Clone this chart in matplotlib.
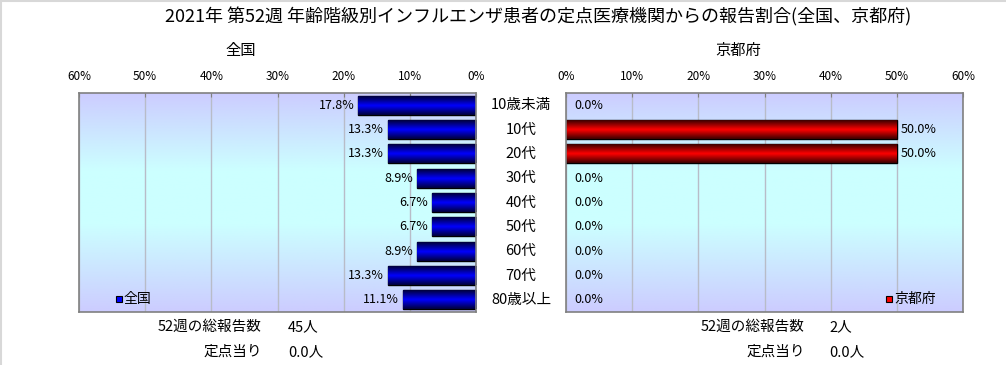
import numpy as np
import matplotlib
matplotlib.use('Agg')
from matplotlib import pyplot as plt
from matplotlib.colors import LinearSegmentedColormap

plt.rcParams['font.family'] = ['Noto Sans CJK JP', 'DejaVu Sans']

title = '2021年 第52週 年齢階級別インフルエンザ患者の定点医療機関からの報告割合(全国、京都府)'
categories = ['10歳未満', '10代', '20代', '30代', '40代', '50代', '60代', '70代', '80歳以上']
zenkoku = [17.8, 13.3, 13.3, 8.9, 6.7, 6.7, 8.9, 13.3, 11.1]
kyoto = [0.0, 50.0, 50.0, 0.0, 0.0, 0.0, 0.0, 0.0, 0.0]
ticks = [0, 10, 20, 30, 40, 50, 60]
total_zenkoku = '45人'
total_kyoto = '2人'
teiten_zenkoku = '0.0人'
teiten_kyoto = '0.0人'

fig = plt.figure(figsize=(10.06, 3.65), dpi=100)

# 背景のグラデーション (上下がラベンダー、中央が水色)
bg = LinearSegmentedColormap.from_list('bg', [(0, '#ccccff'), (0.35, '#ccffff'), (0.6, '#ccffff'), (1, '#ccccff')])
grad = np.linspace(0, 1, 256).reshape(-1, 1)


def bar_gradient(ax, bars, color):
    cm = LinearSegmentedColormap.from_list('b', [(0, '#000000'), (0.5, color), (1, '#000000')])
    g = np.linspace(0, 1, 64).reshape(-1, 1)
    for b in bars:
        if b.get_width() == 0:
            b.set_visible(False)
            continue
        x0, y0 = b.get_x(), b.get_y()
        w, h = b.get_width(), b.get_height()
        im = ax.imshow(g, cmap=cm, aspect='auto', extent=(x0, x0 + w, y0 + h, y0),
                       zorder=2.5, interpolation='bicubic', vmin=-0.15, vmax=1.15)
        im.set_clip_path(b)


def make_axes(rect, values, color, invert):
    ax = fig.add_axes(rect)
    y = np.arange(len(categories))
    ax.imshow(grad, cmap=bg, aspect='auto', extent=(0, 1, 0, 1), transform=ax.transAxes, zorder=0)
    bars = ax.barh(y, values, height=0.78, color=color, edgecolor='black', linewidth=1, zorder=2)
    bar_gradient(ax, bars, color)
    ax.set_xlim(0, 60)
    ax.set_ylim(len(categories) - 0.5, -0.5)
    if invert:
        ax.invert_xaxis()
    ax.set_xticks(ticks)
    ax.set_xticklabels([f'{t}%' for t in ticks], fontsize=8.5)
    ax.xaxis.tick_top()
    ax.tick_params(axis='x', direction='in', length=3, color='#808080', pad=7)
    ax.set_yticks([])
    ax.grid(axis='x', color='#b8bcc8', linewidth=1, zorder=1)
    ax.set_axisbelow(True)
    for s in ax.spines.values():
        s.set_color('#808080')
        s.set_linewidth(1.2)
    for yi, v in zip(y, values):
        if v == 0:
            ax.text(1.2, yi, f'{v:.1f}%', ha='left', va='center', fontsize=9, zorder=3)
        elif invert:
            ax.text(v + 0.6, yi, f'{v:.1f}%', ha='right', va='center', fontsize=9, zorder=3)
        else:
            ax.text(v + 0.6, yi, f'{v:.1f}%', ha='left', va='center', fontsize=9, zorder=3)
    return ax


ax_l = make_axes([79 / 1006, 53 / 365, 397 / 1006, 219 / 365], zenkoku, '#0000ff', True)
ax_r = make_axes([566 / 1006, 53 / 365, 397 / 1006, 219 / 365], kyoto, '#ff0000', False)

# 凡例
ax_l.plot([0.1], [0.06], marker='s', markersize=5, color='#0000ff', mec='black', mew=0.8,
          transform=ax_l.transAxes, clip_on=False)
ax_l.text(0.113, 0.06, '全国', transform=ax_l.transAxes, fontsize=10, va='center', ha='left')
ax_r.plot([0.813], [0.06], marker='s', markersize=5, color='#ff0000', mec='black', mew=0.8,
          transform=ax_r.transAxes, clip_on=False)
ax_r.text(0.826, 0.06, '京都府', transform=ax_r.transAxes, fontsize=10, va='center', ha='left')

# 年齢区分ラベル
for i, c in enumerate(categories):
    yy = 1 - (93 + (i + 0.5) * 219 / 9) / 365
    fig.text(521 / 1006, yy, c, ha='center', va='center', fontsize=10.5)

fig.text(538 / 1006, 1 - 17 / 365, title, ha='center', va='center', fontsize=13)
fig.text(241 / 1006, 1 - 50 / 365, '全国', ha='center', va='center', fontsize=11)
fig.text(738 / 1006, 1 - 50 / 365, '京都府', ha='center', va='center', fontsize=11)

# 総報告数・定点当り
fig.text(262 / 1006, 1 - 327 / 365, '52週の総報告数', ha='right', va='center', fontsize=10.5)
fig.text(288 / 1006, 1 - 327 / 365, total_zenkoku, ha='left', va='center', fontsize=10.5)
fig.text(262 / 1006, 1 - 352 / 365, '定点当り', ha='right', va='center', fontsize=10.5)
fig.text(288 / 1006, 1 - 352 / 365, teiten_zenkoku, ha='left', va='center', fontsize=10.5)
fig.text(805 / 1006, 1 - 327 / 365, '52週の総報告数', ha='right', va='center', fontsize=10.5)
fig.text(829 / 1006, 1 - 327 / 365, total_kyoto, ha='left', va='center', fontsize=10.5)
fig.text(805 / 1006, 1 - 352 / 365, '定点当り', ha='right', va='center', fontsize=10.5)
fig.text(829 / 1006, 1 - 352 / 365, teiten_kyoto, ha='left', va='center', fontsize=10.5)

# 外枠 (上と左の薄い灰色線)
fig.add_artist(plt.Line2D([0, 1], [0.997, 0.997], color='#d8d8d8', linewidth=1.5, transform=fig.transFigure))
fig.add_artist(plt.Line2D([0.001, 0.001], [0, 1], color='#d8d8d8', linewidth=1.5, transform=fig.transFigure))

fig.savefig('out.png', dpi=100, facecolor='white')
